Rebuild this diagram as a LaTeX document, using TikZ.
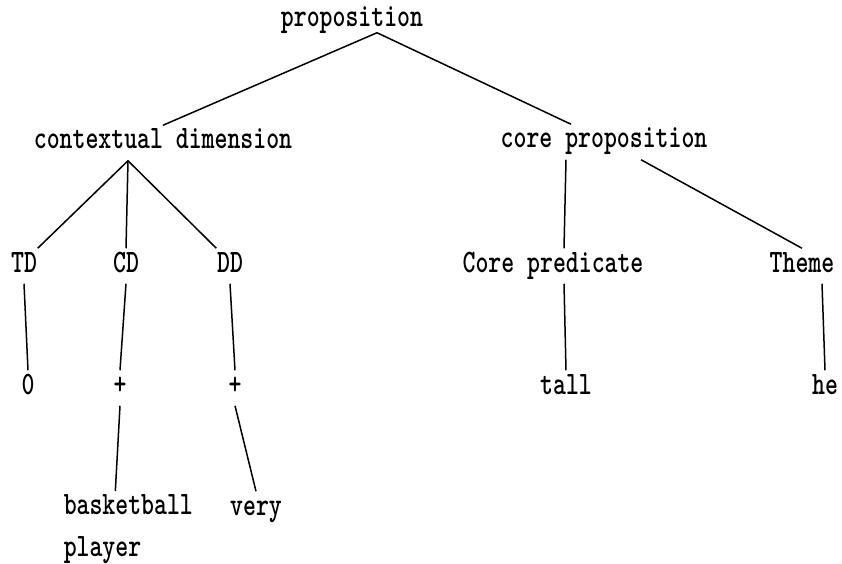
\documentclass[tikz,border=0pt]{standalone}
\usepackage{graphicx}
\usepackage{tikz}
\usetikzlibrary{positioning, calc}

% tall typewriter letters, as in the scanned tree
\newcommand{\tw}[1]{\scalebox{1}[1.33]{#1}}

\begin{document}
\begin{tikzpicture}[x=1pt, y=-1pt, line width=1.5pt,
    lbl/.style={font=\ttfamily\bfseries\fontsize{24.6}{42}\selectfont, anchor=base,
        inner xsep=0pt, inner ysep=3pt, text height=20pt, text depth=8pt}]
    \useasboundingbox (0,0) rectangle (842,564);

    % Root
    \node[lbl] (prop) at (352,27) {\tw{proposition}};

    % Second level
    \node[lbl] (ctx)  at (163,149) {\tw{contextual dimension}};
    \node[lbl] (core) at (604,148) {\tw{core proposition}};

    % Dimensions and core parts
    \node[lbl] (td)    at (24,272)  {\tw{TD}};
    \node[lbl] (cd)    at (126,272) {\tw{CD}};
    \node[lbl] (dd)    at (230,272) {\tw{DD}};
    \node[lbl] (cpred) at (553,272) {\tw{Core predicate}};
    \node[lbl] (theme) at (802,272) {\tw{Theme}};

    % Values
    \node[lbl] (zero)  at (28,394)  {\tw{0}};
    \node[lbl] (plusc) at (120,394) {\tw{+}};
    \node[lbl] (plusd) at (235,394) {\tw{+}};
    \node[lbl] (tall)  at (566,394) {\tw{tall}};
    \node[lbl] (he)    at (825,394) {\tw{he}};

    % Fillers
    \node[lbl, anchor=north west, align=left, text height=, text depth=]
        (ball) at (63,491) {\tw{basketball}\\\tw{player}};
    \node[lbl] (very) at (256,515) {\tw{very}};

    % Branches
    \draw ([xshift=25pt, yshift=6pt]prop.south) -- (ctx.north);
    \draw ([xshift=25pt, yshift=6pt]prop.south) -- ([xshift=-33pt]core.north);
    \draw ([xshift=-35pt]ctx.south) -- (td.north east);
    \draw ([xshift=-35pt]ctx.south) -- (cd.north);
    \draw ([xshift=-35pt]ctx.south) -- (dd.north west);
    \draw ([xshift=-38pt]core.south) -- ([xshift=11pt]cpred.north);
    \draw ([xshift=37pt]core.south) -- (theme.north);
    \draw (td.south) -- (zero.north);
    \draw (cd.south) -- (plusc.north);
    \draw (dd.south) -- (plusd.north);
    \draw ([xshift=11pt]cpred.south) -- (tall.north);
    \draw ([xshift=20pt]theme.south) -- (he.north);
    \draw (plusc.south) -- ([xshift=-13pt]ball.north);
    \draw (plusd.south) -- (very.north);
\end{tikzpicture}
\end{document}
